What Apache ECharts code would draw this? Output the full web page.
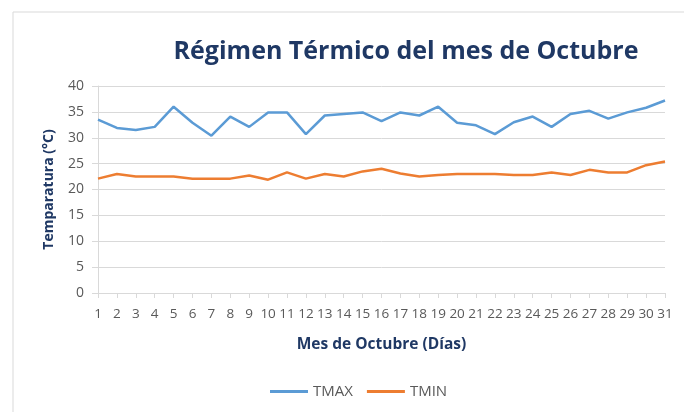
<!DOCTYPE html>
<html>
<head>
<meta charset="utf-8">
<script src="https://cdn.jsdelivr.net/npm/echarts@6/dist/echarts.min.js"></script>
<style>
  html, body { margin: 0; padding: 0; background: #fff; }
  #chart { width: 684px; height: 412px; }
</style>
</head>
<body>
<div id="chart"></div>
<script>
// dias del mes de octubre
const dias = ['1','2','3','4','5','6','7','8','9','10','11','12','13','14','15','16',
  '17','18','19','20','21','22','23','24','25','26','27','28','29','30','31'];
// temperaturas (°C)
const tmax = [33.5, 31.9, 31.5, 32.1, 36.0, 32.9, 30.4, 34.1, 32.1, 34.9, 34.9, 30.7, 34.3, 34.6, 34.9, 33.2,
  34.9, 34.3, 36.0, 32.9, 32.4, 30.7, 33.0, 34.1, 32.1, 34.6, 35.2, 33.7, 34.9, 35.8, 37.2];
const tmin = [22.1, 23.0, 22.5, 22.5, 22.5, 22.1, 22.1, 22.1, 22.7, 21.9, 23.3, 22.1, 23.0, 22.5, 23.5, 24.0,
  23.1, 22.5, 22.8, 23.0, 23.0, 23.0, 22.8, 22.8, 23.3, 22.8, 23.8, 23.3, 23.3, 24.7, 25.4];

const navy = '#1F3864';
const gris = '#595959';
const font = 'Open Sans';

const chart = echarts.init(document.getElementById('chart'));
chart.setOption({
  backgroundColor: '#fff',
  animation: false,
  textStyle: { fontFamily: font },
  graphic: [{
    type: 'rect', z: -1,
    shape: { x: 13, y: 12, width: 700, height: 420 },
    style: { fill: 'none', stroke: '#d9d9d9', lineWidth: 1 }
  }],
  title: {
    text: 'Régimen Térmico del mes de Octubre',
    left: 401, top: 34, textAlign: 'center',
    textStyle: { fontFamily: font, fontSize: 25, fontWeight: 'bold', color: navy }
  },
  legend: {
    bottom: 8, left: 265, itemWidth: 38, itemHeight: 3, itemGap: 14,
    icon: 'rect',
    textStyle: { color: gris, fontSize: 15, fontFamily: font },
    data: ['TMAX', 'TMIN']
  },
  grid: { left: 98, right: 19, top: 86, bottom: 119, containLabel: false },
  xAxis: {
    type: 'category', data: dias, boundaryGap: false,
    name: 'Mes de Octubre (Días)', nameLocation: 'middle', nameGap: 44,
    nameTextStyle: { color: navy, fontSize: 15.5, fontWeight: 'bold' },
    axisLine: { lineStyle: { color: '#d9d9d9', width: 1 } },
    axisTick: { show: true, length: 5, lineStyle: { color: '#d9d9d9' }, interval: 0 },
    axisLabel: { color: gris, fontSize: 13.5, interval: 0, margin: 14 },
    splitLine: { show: false }
  },
  yAxis: {
    type: 'value', min: 0, max: 40, interval: 5,
    name: 'Temparatura (°C)', nameLocation: 'middle', nameGap: 42,
    nameTextStyle: { color: navy, fontSize: 14, fontWeight: 'bold' },
    axisLine: { show: true, lineStyle: { color: '#d9d9d9', width: 1 } },
    axisTick: { show: true, length: 6, lineStyle: { color: '#d9d9d9' } },
    axisLabel: { color: gris, fontSize: 14, margin: 14 },
    splitLine: { lineStyle: { color: '#d9d9d9', width: 1 } }
  },
  series: [
    { name: 'TMAX', type: 'line', data: tmax, symbol: 'none',
      lineStyle: { color: '#5B9BD5', width: 2.5 }, itemStyle: { color: '#5B9BD5' } },
    { name: 'TMIN', type: 'line', data: tmin, symbol: 'none',
      lineStyle: { color: '#ED7D31', width: 2.5 }, itemStyle: { color: '#ED7D31' } }
  ]
});
</script>
</body>
</html>
